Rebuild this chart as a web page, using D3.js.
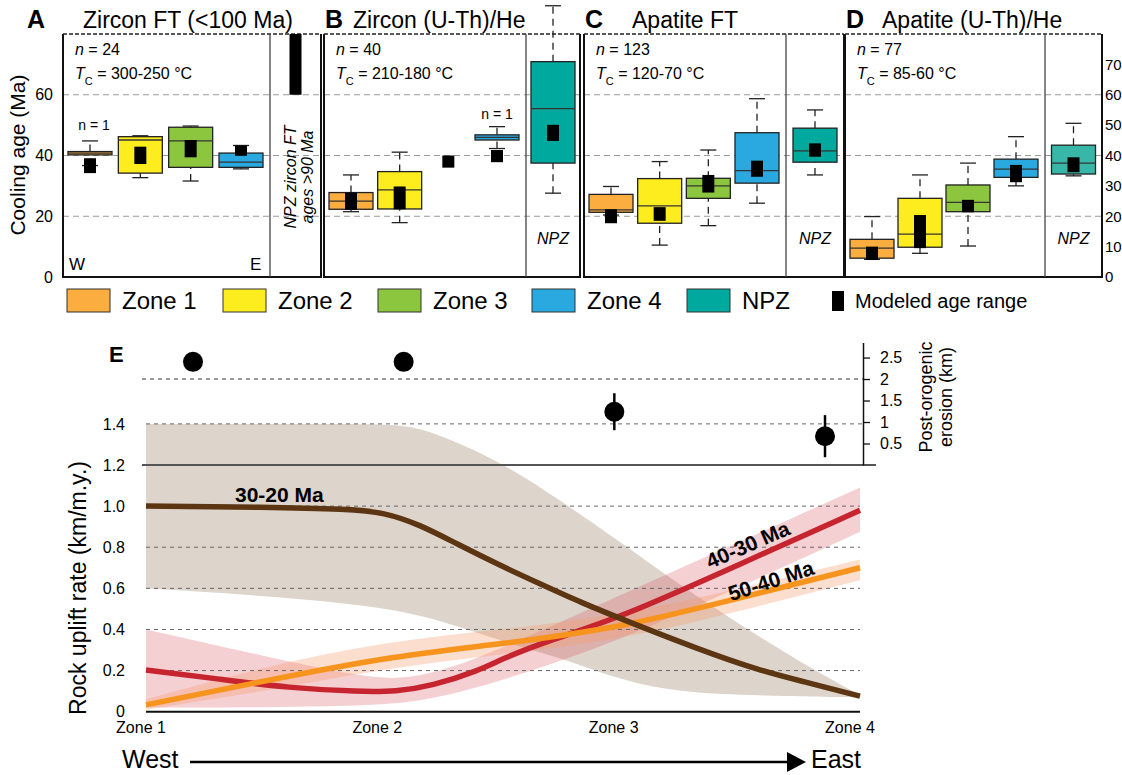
<!DOCTYPE html>
<html><head><meta charset="utf-8">
<script src="https://cdn.jsdelivr.net/npm/d3@7"></script>
<style>body{margin:0;background:#fff} svg{display:block;font-family:"Liberation Sans",Arial,sans-serif}</style>
</head><body><svg id="c" width="1122" height="775"></svg>
<script>
// ---------------- DATA ----------------
const zones = ["Zone 1","Zone 2","Zone 3","Zone 4"];
const groups = ["Zone 1","Zone 2","Zone 3","Zone 4","NPZ"];
const panelLetters = ["A","B","C","D"];
const panelTitles = ["Zircon FT (<100 Ma)","Zircon (U-Th)/He","Apatite FT","Apatite (U-Th)/He"];
const panelN = ["24","40","123","77"];
const panelTc = ["300-250","210-180","120-70","85-60"];
// box stats per group: [low whisker, q1, median, q3, high whisker]; null = no box
const boxA = [[36.7,40.2,40.8,41.3,44.8],[32.7,34.2,45.1,46.2,46.5],[31.6,36.1,44.8,49.3,49.7],[35.6,36.1,37.8,40.8,43.3],null];
const boxB = [[21.5,22.3,25.0,27.8,33.6],[17.9,22.4,28.7,34.7,41.1],null,[42.3,45.1,46.0,46.8,49.5],[27.6,37.5,55.4,70.9,89.3]];
const boxC = [[20.4,21.3,22.1,27.2,29.8],[10.5,17.7,23.4,32.4,38.0],[16.9,25.9,30.0,32.5,41.8],[24.3,30.9,35.0,47.5,58.7],[33.6,37.8,41.5,49.0,55.0]];
const boxD = [[5.8,6.2,9.5,12.4,19.9],[7.8,9.8,14.1,25.9,33.6],[10.2,21.5,24.6,30.3,37.5],[30.0,32.8,35.5,38.8,46.2],[33.3,33.9,37.5,43.4,50.6]];
// modeled age range [min, max]
const modA = [[34.2,39.1],[37.2,42.9],[39.4,45.1],[39.9,43.3],[60,80]];
const modB = [[22.1,27.8],[22.3,29.8],[36.0,40.0],[37.8,41.8],[44.8,50.1]];
const modC = [[17.7,22.3],[18.5,23.0],[27.8,33.6],[33.0,38.3],[39.6,44.0]];
const modD = [[5.6,10.0],[9.5,20.4],[21.3,25.4],[31.2,36.9],[34.5,39.4]];
const singleSample = [["Zone 1"],["Zone 4"],[],[]]; // "n = 1" labels
const ageTicksLeft = [0,20,40,60];
const ageTicksRight = [0,10,20,30,40,50,60,70];
const ageGrid = [20,40,60];
const zoneColors = ["#fbad3f","#fdec1e","#8cc63f","#29a9e0","#00a99d"];
const npzColorD = "#38b6a8";
const legendLabels = ["Zone 1","Zone 2","Zone 3","Zone 4","NPZ"];

// Panel E
const rateTicks = [0,0.2,0.4,0.6,0.8,1.0,1.2,1.4];
const rateGrid = [0.2,0.4,0.6,0.8,1.0];
const erosionTicks = [0.5,1,1.5,2,2.5];
const erosionMean = [2.4,2.4,1.24,0.67];
const erosionLow = [null,null,0.81,0.18];
const erosionHigh = [null,null,1.67,1.16];
// [zone position (0 = Zone 1 ... 3 = Zone 4), uplift rate km/m.y.]
const line3020 = [[0,1.0],[0.5,0.995],[0.85,0.985],[1.0,0.97],[1.15,0.91],[1.3,0.82],[1.49,0.71],[1.66,0.62],[1.83,0.53],[2.0,0.45],[2.33,0.3],[2.58,0.2],[2.75,0.15],[3.0,0.076]];
const band3020Hi = [[0,1.4],[0.9,1.4],[1.1,1.395],[1.25,1.34],[1.5,1.21],[1.75,1.02],[2.0,0.82],[2.25,0.61],[2.5,0.42],[2.75,0.24],[3.0,0.08]];
const band3020Lo = [[0,0.6],[0.5,0.565],[1.0,0.51],[1.25,0.44],[1.5,0.34],[1.75,0.26],[2.0,0.15],[2.25,0.095],[2.5,0.08],[3.0,0.07]];
const line4030 = [[0,0.203],[0.3,0.16],[0.6,0.115],[0.9,0.097],[1.05,0.098],[1.2,0.125],[1.4,0.2],[1.5,0.26],[1.7,0.35],[2.0,0.46],[2.5,0.72],[3.0,0.98]];
const band4030Hi = [[0,0.40],[0.5,0.27],[0.9,0.17],[1.1,0.155],[1.3,0.22],[1.5,0.31],[2.0,0.57],[2.5,0.83],[3.0,1.09]];
const band4030Lo = [[0,0.02],[0.5,0.02],[1.0,0.03],[1.2,0.06],[1.5,0.15],[2.0,0.35],[2.5,0.61],[3.0,0.875]];
const line5040 = [[0,0.033],[0.5,0.15],[1.0,0.265],[1.5,0.33],[2.0,0.41],[2.5,0.555],[3.0,0.70]];
const band5040Hi = [[0,0.06],[0.5,0.22],[1.0,0.34],[1.5,0.40],[2.0,0.47],[2.5,0.60],[3.0,0.74]];
const band5040Lo = [[0,0.01],[0.5,0.10],[1.0,0.21],[1.5,0.28],[2.0,0.35],[2.5,0.49],[3.0,0.64]];
const periodLabels = ["30-20 Ma","40-30 Ma","50-40 Ma"];

// ---------------- DRAW ----------------
const svg = d3.select("#c");
const boxes = [boxA,boxB,boxC,boxD];
const mods = [modA,modB,modC,modD];
const panelX = [[63,270,321],[324,526,580],[584,786,844],[845,1045,1102]];
const yAge = d3.scaleLinear().domain([0,80]).range([277,34]);

panelX.forEach(([L,Dv,R],p)=>{
  const g = svg.append("g");
  const xz = d3.scalePoint().domain(zones).range([L+27, Dv-29]);
  const cx = k => k==="NPZ" ? (Dv+R)/2 : xz(k);
  g.selectAll(".grid").data(ageGrid).join("line")
    .attr("x1",L).attr("x2",R).attr("y1",d=>yAge(d)).attr("y2",d=>yAge(d))
    .attr("stroke","#9a9a9a").attr("stroke-width",1.2).attr("stroke-dasharray","6,4");
  g.append("path").attr("d",`M${L},${yAge(80)}V${yAge(0)}H${R}V${yAge(80)}`)
    .attr("fill","none").attr("stroke","#111").attr("stroke-width",2);
  g.append("line").attr("x1",L).attr("x2",R).attr("y1",yAge(80)).attr("y2",yAge(80))
    .attr("stroke","#222").attr("stroke-width",1.6).attr("stroke-dasharray","4,2");
  g.append("line").attr("x1",Dv).attr("x2",Dv).attr("y1",yAge(80)).attr("y2",yAge(0))
    .attr("stroke","#444").attr("stroke-width",1.3);
  svg.append("text").attr("x",p===0?27:L+1).attr("y",28).attr("font-size",25).attr("font-weight","bold").text(panelLetters[p]);
  svg.append("text").attr("x",[83,353,632,882][p]).attr("y",28).attr("font-size",23).text(panelTitles[p]);
  const t1 = g.append("text").attr("x",L+12).attr("y",55).attr("font-size",16);
  t1.append("tspan").attr("font-style","italic").text("n");
  t1.append("tspan").text(" = "+panelN[p]);
  const t2 = g.append("text").attr("x",L+12).attr("y",79).attr("font-size",16);
  t2.append("tspan").attr("font-style","italic").text("T");
  t2.append("tspan").attr("dy",6).attr("font-size",11).text("C");
  t2.append("tspan").attr("dy",-6).text(" = "+panelTc[p]+" °C");
  const bw = 44, cw = 16, mw = 12;
  groups.forEach((k,i)=>{
    const b = boxes[p][i];
    const c = cx(k);
    const col = (k==="NPZ" && p===3) ? npzColorD : zoneColors[i];
    if(b){
      const [lo,q1,md,q3,hi] = b;
      [[lo,q1],[q3,hi]].forEach(([a,z])=>{
        g.append("line").attr("x1",c).attr("x2",c).attr("y1",yAge(a)).attr("y2",yAge(z))
          .attr("stroke","#222").attr("stroke-width",1.3).attr("stroke-dasharray","7,5");
      });
      [lo,hi].forEach(v=>g.append("line").attr("x1",c-cw/2).attr("x2",c+cw/2).attr("y1",yAge(v)).attr("y2",yAge(v))
        .attr("stroke","#222").attr("stroke-width",1.3));
      g.append("rect").attr("x",c-bw/2).attr("width",bw).attr("y",yAge(q3)).attr("height",yAge(q1)-yAge(q3))
        .attr("fill",col).attr("stroke","#222").attr("stroke-width",1.3);
      g.append("line").attr("x1",c-bw/2).attr("x2",c+bw/2).attr("y1",yAge(md)).attr("y2",yAge(md))
        .attr("stroke","#333").attr("stroke-width",1.3);
    }
    const m = mods[p][i];
    g.append("rect").attr("x",c-mw/2).attr("width",mw).attr("y",yAge(m[1])).attr("height",yAge(m[0])-yAge(m[1])).attr("fill","#000");
  });
  singleSample[p].forEach(k=>{
    const i = groups.indexOf(k);
    g.append("text").attr("x",cx(k)+ (p===0?4:0)).attr("y",yAge(boxes[p][i][4])-(p===0?11:8)).attr("text-anchor","middle").attr("font-size",14).text("n = 1");
  });
  if(p>0){
    g.append("text").attr("x",(Dv+R)/2).attr("y",244).attr("text-anchor","middle").attr("font-size",16).attr("font-style","italic").text("NPZ");
  } else {
    const tt = g.append("text").attr("transform",`translate(${(Dv+R)/2},177) rotate(-90)`).attr("text-anchor","middle").attr("font-size",16).attr("font-style","italic");
    tt.append("tspan").attr("x",0).attr("dy",0).text("NPZ zircon FT");
    tt.append("tspan").attr("x",0).attr("dy",17).text("ages >90 Ma");
    g.append("text").attr("x",L+6).attr("y",270).attr("font-size",17).text("W");
    g.append("text").attr("x",Dv-20).attr("y",270).attr("font-size",17).text("E");
  }
});
svg.append("g").attr("transform","translate(53,0)").call(d3.axisLeft(yAge).tickValues(ageTicksLeft).tickSize(0).tickPadding(0).tickFormat(d3.format("d")))
  .call(a=>{a.select(".domain").remove(); a.selectAll("text").attr("font-size",16).attr("font-family","Liberation Sans, Arial, sans-serif");});
svg.append("g").attr("transform","translate(1105,0)").call(d3.axisRight(yAge).tickValues(ageTicksRight).tickSize(0).tickPadding(0).tickFormat(d3.format("d")))
  .call(a=>{a.select(".domain").remove(); a.selectAll("text").attr("font-size",15).attr("font-family","Liberation Sans, Arial, sans-serif");});
svg.append("text").attr("transform","translate(25,155) rotate(-90)").attr("text-anchor","middle").attr("font-size",21).text("Cooling age (Ma)");

// legend
legendLabels.forEach((k,i)=>{
  const x = [67,223,378,532,687][i];
  svg.append("rect").attr("x",x).attr("y",289).attr("width",43).attr("height",23).attr("fill",zoneColors[i]).attr("stroke","#333").attr("stroke-width",1);
  svg.append("text").attr("x",x+55).attr("y",309).attr("font-size",24).text(k);
});
svg.append("rect").attr("x",832).attr("y",291).attr("width",12).attr("height",20).attr("fill","#000");
svg.append("text").attr("x",855).attr("y",308).attr("font-size",20).text("Modeled age range");

// ---------------- PANEL E ----------------
const xE = d3.scaleLinear().domain([0,3]).range([146,860]);
const yE = d3.scaleLinear().domain([0,1.2]).range([711.7,465]);
const yEro = d3.scaleLinear().domain([0,2.85]).range([465,342.5]);
const xLab = d3.scalePoint().domain(zones).range([141,850]);
const xEro = d3.scalePoint().domain(zones).range([193,825]);

const ln = d3.line().x(d=>xE(d[0])).y(d=>yE(d[1])).curve(d3.curveBasis);
const area = (hi,lo)=> ln(hi) + "L" + ln(lo.slice().reverse()).slice(1) + "Z";
svg.append("path").attr("d",area(band3020Hi,band3020Lo)).attr("fill","#ddd4cc");
svg.append("path").attr("d",area(band4030Hi,band4030Lo)).attr("fill","#d9434f").attr("opacity",0.25);
svg.append("path").attr("d",area(band5040Hi,band5040Lo)).attr("fill","#f79a6a").attr("opacity",0.33);

svg.selectAll(".rg").data(rateGrid).join("line")
  .attr("x1",xE(0)).attr("x2",xE(3)).attr("y1",d=>yE(d)).attr("y2",d=>yE(d))
  .attr("stroke","#666").attr("stroke-width",1).attr("stroke-dasharray","4,4");
svg.append("line").attr("x1",xE(0)).attr("x2",863).attr("y1",yE(1.4)).attr("y2",yE(1.4))
  .attr("stroke","#666").attr("stroke-width",1).attr("stroke-dasharray","4,4");
svg.append("line").attr("x1",142).attr("x2",863).attr("y1",yEro(2)).attr("y2",yEro(2))
  .attr("stroke","#333").attr("stroke-width",1).attr("stroke-dasharray","4,4");
svg.append("line").attr("x1",142).attr("x2",876).attr("y1",yE(1.2)).attr("y2",yE(1.2))
  .attr("stroke","#555").attr("stroke-width",2);
svg.append("line").attr("x1",xE(0)).attr("x2",xE(3)).attr("y1",yE(0)).attr("y2",yE(0))
  .attr("stroke","#111").attr("stroke-width",2);

svg.append("path").attr("d",ln(line4030)).attr("fill","none").attr("stroke","#c6242f").attr("stroke-width",5.5);
svg.append("path").attr("d",ln(line5040)).attr("fill","none").attr("stroke","#f7941d").attr("stroke-width",5.5);
svg.append("path").attr("d",ln(line3020)).attr("fill","none").attr("stroke","#5c3512").attr("stroke-width",5.5);

svg.append("text").attr("x",235).attr("y",502).attr("font-size",21).attr("font-weight","bold").text(periodLabels[0]);
svg.append("text").attr("transform","translate(748,545) rotate(-23.5)").attr("y",7).attr("text-anchor","middle").attr("font-size",21).attr("font-weight","bold").text(periodLabels[1]);
svg.append("text").attr("transform","translate(771,581) rotate(-18)").attr("y",7).attr("text-anchor","middle").attr("font-size",21).attr("font-weight","bold").text(periodLabels[2]);

svg.append("g").attr("transform","translate(125,0)").call(d3.axisLeft(yE).tickValues(rateTicks).tickSize(0).tickPadding(0).tickFormat(d=>d===0?"0":d3.format(".1f")(d)))
  .call(a=>{a.select(".domain").remove(); a.selectAll("text").attr("font-size",16).attr("font-family","Liberation Sans, Arial, sans-serif");});
svg.append("text").attr("transform","translate(86,588) rotate(-90)").attr("text-anchor","middle").attr("font-size",23).text("Rock uplift rate (km/m.y.)");
svg.append("text").attr("x",109).attr("y",362).attr("font-size",22).attr("font-weight","bold").text("E");

svg.selectAll(".zl").data(zones).join("text").attr("x",d=>xLab(d)).attr("y",733).attr("text-anchor","middle").attr("font-size",16).text(d=>d);

svg.append("g").attr("transform","translate(863,0)").call(d3.axisRight(yEro).tickValues(erosionTicks).tickSize(7).tickSizeOuter(0).tickPadding(10).tickFormat(d=>d3.format("")(d)))
  .call(a=>{a.select(".domain").attr("stroke","#111").attr("stroke-width",1.5); a.selectAll("line").attr("stroke","#111").attr("stroke-width",1.3); a.selectAll("text").attr("font-size",16).attr("font-family","Liberation Sans, Arial, sans-serif");});
const et = svg.append("text").attr("transform","translate(932,397) rotate(-90)").attr("text-anchor","middle").attr("font-size",18);
et.append("tspan").attr("x",0).attr("dy",0).text("Post-orogenic");
et.append("tspan").attr("x",0).attr("dy",20).text("erosion (km)");

zones.forEach((z,i)=>{
  if(erosionLow[i]!==null){
    svg.append("line").attr("x1",xEro(z)).attr("x2",xEro(z)).attr("y1",yEro(erosionLow[i])).attr("y2",yEro(erosionHigh[i])).attr("stroke","#000").attr("stroke-width",2.5);
  }
  svg.append("circle").attr("cx",xEro(z)).attr("cy",yEro(erosionMean[i])).attr("r",10).attr("fill","#000");
});

svg.append("text").attr("x",122).attr("y",768).attr("font-size",25).text("West");
svg.append("line").attr("x1",190).attr("x2",790).attr("y1",762).attr("y2",762).attr("stroke","#000").attr("stroke-width",2.5);
svg.append("path").attr("d","M787,752L806,762L787,772Z").attr("fill","#000");
svg.append("text").attr("x",811).attr("y",768).attr("font-size",25).text("East");
</script></body></html>
